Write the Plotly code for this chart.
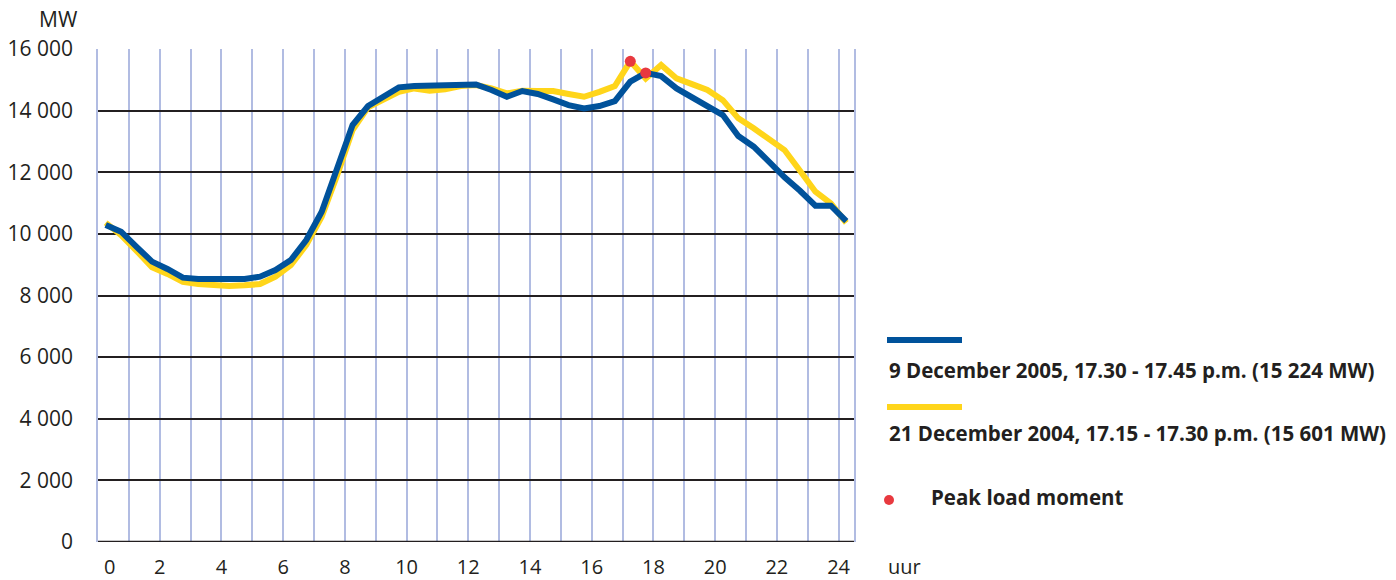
import plotly.graph_objects as go

hours = [0.25, 0.75, 1.25, 1.75, 2.25, 2.75, 3.25, 3.75, 4.25, 4.75,
         5.25, 5.75, 6.25, 6.75, 7.25, 7.75, 8.25, 8.75, 9.25, 9.75,
         10.25, 10.75, 11.25, 11.75, 12.25, 12.75, 13.25, 13.75, 14.25, 14.75,
         15.25, 15.75, 16.25, 16.75, 17.25, 17.75, 18.25, 18.75, 19.25, 19.75,
         20.25, 20.75, 21.25, 21.75, 22.25, 22.75, 23.25, 23.75, 24.25]

load_2005 = [10290, 10070, 9580, 9100, 8860, 8580, 8535, 8525, 8512, 8535,
             8610, 8826, 9150, 9800, 10720, 12150, 13530, 14150, 14450, 14755,
             14800, 14805, 14830, 14850, 14850, 14670, 14450, 14635, 14540, 14365,
             14180, 14070, 14150, 14310, 14940, 15224, 15120, 14720, 14450, 14150,
             13855, 13175, 12830, 12340, 11835, 11400, 10913, 10913, 10416]

load_2004 = [10360, 9960, 9450, 8920, 8700, 8447, 8372, 8340, 8307, 8330,
             8372, 8610, 8990, 9640, 10555, 11900, 13370, 14105, 14340, 14610,
             14720, 14645, 14690, 14800, 14830, 14720, 14560, 14645, 14635, 14635,
             14540, 14450, 14610, 14800, 15601, 15045, 15480, 15045, 14860, 14670,
             14340, 13750, 13425, 13100, 12720, 12050, 11370, 10990, 10360]

peak_hours = [17.25, 17.75]
peak_values = [15601, 15224]

y_ticks = [0, 2000, 4000, 6000, 8000, 10000, 12000, 14000, 16000]
y_labels = ["0", "2 000", "4 000", "6 000", "8 000", "10 000", "12 000", "14 000", "16 000"]
x_ticks = [2, 4, 6, 8, 10, 12, 14, 16, 18, 20, 22, 24]
x_labels = ["2", "4", "6", "8", "10", "12", "14", "16", "18", "20", "22", "24"]

label_2005 = "9 December 2005, 17.30 - 17.45 p.m. (15 224 MW)"
label_2004 = "21 December 2004, 17.15 - 17.30 p.m. (15 601 MW)"
label_peak = "Peak load moment"

BLUE = "#00529b"
YELLOW = "#ffd51a"
RED = "#e8393f"
TXT = "#231f20"
GRIDV = "#b1bce2"
FONT = "Open Sans"

W, H = 1396, 580
L, R, T, B = 98, 854, 49, 542

def px(x):
    return (x - L) / (R - L)

def py(y):
    return (B - y) / (B - T)

fig = go.Figure()
fig.add_trace(go.Scatter(x=hours, y=load_2004, mode="lines",
                         line=dict(color=YELLOW, width=6), showlegend=False, hoverinfo="skip"))
fig.add_trace(go.Scatter(x=hours, y=load_2005, mode="lines",
                         line=dict(color=BLUE, width=6), showlegend=False, hoverinfo="skip"))
fig.add_trace(go.Scatter(x=peak_hours, y=peak_values, mode="markers",
                         marker=dict(color=RED, size=11), showlegend=False, hoverinfo="skip"))

fig.update_layout(
    width=W, height=H,
    margin=dict(l=L, r=W - R, t=T, b=H - B),
    plot_bgcolor="white", paper_bgcolor="white",
    font=dict(family=FONT, color=TXT, size=21),
    xaxis=dict(range=[0, 24.5], tickvals=x_ticks, ticktext=x_labels,
               showgrid=True, gridcolor=GRIDV, gridwidth=1.5,
               minor=dict(dtick=1, tick0=0, showgrid=True, gridcolor=GRIDV, gridwidth=1.5),
               zeroline=False, showline=False, ticks="", ticklabelstandoff=11,
               automargin=False,
               tickfont=dict(family=FONT, size=20, color=TXT), fixedrange=True),
    yaxis=dict(range=[0, 16000], tickvals=y_ticks, ticktext=y_labels,
               showgrid=True, gridcolor=TXT, gridwidth=1.6,
               zeroline=False, showline=True, mirror=True, linecolor=GRIDV, linewidth=1.5,
               ticks="", ticklabelstandoff=19, automargin=False,
               tickfont=dict(family=FONT, size=21, color=TXT), fixedrange=True),
)

shapes = [
    dict(type="line", xref="paper", yref="y", x0=0, x1=1, y0=0, y1=0,
         line=dict(color=TXT, width=2.5), layer="above"),
    dict(type="line", xref="paper", yref="paper", x0=px(887), x1=px(962), y0=py(340), y1=py(340),
         line=dict(color=BLUE, width=6)),
    dict(type="line", xref="paper", yref="paper", x0=px(887), x1=px(962), y0=py(407), y1=py(407),
         line=dict(color=YELLOW, width=6)),
    dict(type="circle", xref="paper", yref="paper", x0=px(884), x1=px(894), y0=py(495), y1=py(505),
         fillcolor=RED, line=dict(width=0)),
]
fig.update_layout(shapes=shapes)

annotations = [
    dict(text="MW", x=px(58), y=py(19), xref="paper", yref="paper", showarrow=False,
         xanchor="center", yanchor="middle", font=dict(family=FONT, size=21, color=TXT)),
    dict(text="0", x=px(109), y=py(566), xref="paper", yref="paper", showarrow=False,
         xanchor="center", yanchor="middle", font=dict(family=FONT, size=20, color=TXT)),
    dict(text="uur", x=px(886), y=py(566), xref="paper", yref="paper", showarrow=False,
         xanchor="left", yanchor="middle", font=dict(family=FONT, size=20, color=TXT)),
    dict(text="<b>" + label_2005 + "</b>", x=px(887), y=py(370), xref="paper", yref="paper",
         showarrow=False, xanchor="left", yanchor="middle",
         font=dict(family=FONT, size=20.5, color=TXT)),
    dict(text="<b>" + label_2004 + "</b>", x=px(887), y=py(433), xref="paper", yref="paper",
         showarrow=False, xanchor="left", yanchor="middle",
         font=dict(family=FONT, size=20.5, color=TXT)),
    dict(text="<b>" + label_peak + "</b>", x=px(929), y=py(497), xref="paper", yref="paper",
         showarrow=False, xanchor="left", yanchor="middle",
         font=dict(family=FONT, size=20.5, color=TXT)),
]
fig.update_layout(annotations=annotations)

fig.write_html("out.html", config={"displayModeBar": False},
               post_script="document.body.style.margin='0';")
